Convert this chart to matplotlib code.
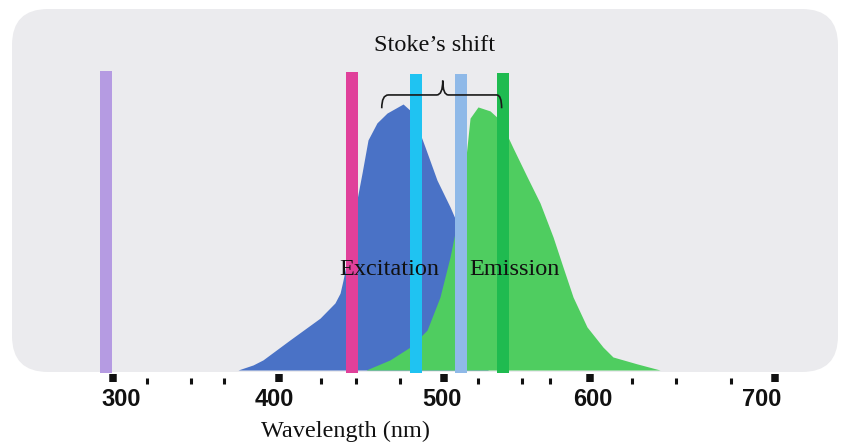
import numpy as np
import matplotlib.pyplot as plt
from matplotlib.patches import FancyBboxPatch, PathPatch
from matplotlib.path import Path

# excitation spectrum, wavelength nm / relative intensity
exc_nm  = [375.3, 384.4, 390.4, 406.7, 424.9, 433.9, 437.0, 438.8, 443.0, 446.6, 450.3,
           453.9, 459.3, 465.4, 475.1, 480.5, 488.4, 495.6, 503.5, 507.7, 514.4, 520.4, 526.5]
exc_int = [0.0, 0.019, 0.038, 0.113, 0.195, 0.252, 0.289, 0.338, 0.470, 0.620, 0.741,
           0.865, 0.929, 0.966, 1.0, 0.970, 0.838, 0.714, 0.613, 0.553, 0.395, 0.207, 0.0]

# emission spectrum
emi_nm  = [452.7, 467.2, 479.3, 489.6, 497.4, 503.5, 507.7, 512.0, 515.6, 520.4, 527.7,
           533.7, 541.6, 550.1, 557.9, 565.8, 571.8, 577.9, 586.3, 596.0, 602.0, 616.6, 630.5]
emi_int = [0.0, 0.038, 0.086, 0.150, 0.274, 0.425, 0.553, 0.733, 0.947, 0.989, 0.974,
           0.940, 0.835, 0.726, 0.628, 0.500, 0.387, 0.274, 0.162, 0.086, 0.049, 0.023, 0.0]

# laser / filter lines
line_nm     = [295.5, 444.2, 482.9, 510.4, 535.8]
line_top    = [1.124, 1.120, 1.113, 1.113, 1.117]
line_colors = ['#b59be2', '#e0409a', '#1fc3f2', '#8fb9e8', '#1fbb50']

# axis ticks as drawn in the figure
major_ticks = [300, 400, 500, 588, 700]
minor_ticks = [320, 347, 367, 425.5, 446.6, 473.2, 520.2, 546.8, 563.9, 613.5, 640.1, 673.4]
label_pos   = [304.5, 397.1, 498.3, 589.9, 692.2]
tick_labels = ['300', '400', '500', '600', '700']

serif = ['Liberation Serif', 'DejaVu Serif']

fig = plt.figure(figsize=(8.41, 4.42), dpi=100)
fig.patch.set_facecolor('white')
bg = FancyBboxPatch((0.12, 0.70), 8.26, 3.63,
                    boxstyle='round,pad=0,rounding_size=0.36',
                    transform=fig.dpi_scale_trans, facecolor='#ebebee',
                    edgecolor='none', zorder=-1)
fig.add_artist(bg)

ax = fig.add_axes([0, 0, 1, 1])
ax.set_facecolor('none')
ax.set_xlim(231.37, 739.9)
ax.set_ylim(-0.2707, 1.391)

ax.fill_between(exc_nm, exc_int, 0, color='#4a72c6', lw=0, zorder=2)
ax.fill_between(emi_nm, emi_int, 0, color='#4fcd60', lw=0, zorder=3)

for x, top, c in zip(line_nm, line_top, line_colors):
    ax.bar(x, top + 0.012, width=7.3, bottom=-0.012, color=c, lw=0, zorder=4)

# Stokes shift brace
bl, bm, br = 462.2, 499.1, 534.7
yb, yh, yt = 0.984, 1.034, 1.088
verts = [(bl, yb), (bl, yh), (bl + 4, yh),
         (bm - 3.7, yh),
         (bm, yh), (bm, yt),
         (bm, yh), (bm + 3.4, yh),
         (br - 3, yh),
         (br, yh), (br, yb)]
codes = [Path.MOVETO, Path.CURVE3, Path.CURVE3,
         Path.LINETO,
         Path.CURVE3, Path.CURVE3,
         Path.CURVE3, Path.CURVE3,
         Path.LINETO,
         Path.CURVE3, Path.CURVE3]
ax.add_patch(PathPatch(Path(verts, codes), facecolor='none', edgecolor='#1a1a1a',
                       lw=1.2, zorder=5))

ax.text(494.4, 1.200, 'Stoke\u2019s shift', ha='center', va='baseline',
        fontsize=17.5, family=serif, color='#111111', zorder=6)
ax.text(466.9, 0.357, 'Excitation', ha='center', va='baseline',
        fontsize=17.5, family=serif, color='#111111', zorder=6)
ax.text(542.3, 0.357, 'Emission', ha='center', va='baseline',
        fontsize=17.5, family=serif, color='#111111', zorder=6)
ax.text(440.3, -0.252, 'Wavelength (nm)', ha='center', va='baseline',
        fontsize=17.5, family=serif, color='#111111', zorder=6)

for x, lab in zip(label_pos, tick_labels):
    ax.text(x, -0.135, lab, ha='center', va='baseline', fontsize=17,
            fontweight='bold', family=['Liberation Sans', 'DejaVu Sans'],
            color='#111111', zorder=6)

for s in ['top', 'left', 'right']:
    ax.spines[s].set_visible(False)
ax.spines['bottom'].set_position(('data', -0.0301))
ax.spines['bottom'].set_color('none')
ax.set_yticks([])
ax.set_xticks(major_ticks)
ax.set_xticks(minor_ticks, minor=True)
ax.tick_params(axis='x', which='major', direction='inout', length=5.8, width=5.4,
               color='#111111', labelbottom=False)
ax.tick_params(axis='x', which='minor', direction='out', length=4.3, width=2.2,
               color='#111111', labelbottom=False)

fig.savefig('out.png', dpi=100)
